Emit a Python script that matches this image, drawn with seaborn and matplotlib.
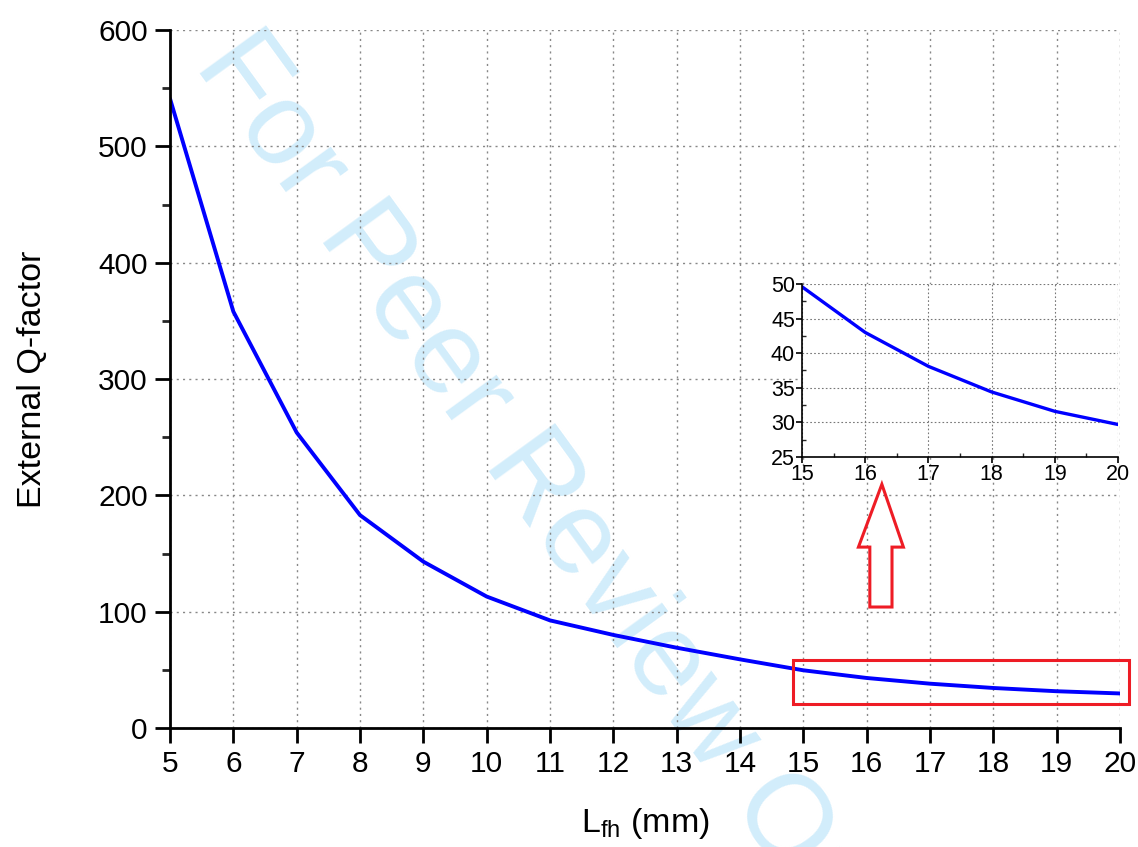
import numpy as np
import pandas as pd
import matplotlib
matplotlib.use('Agg')
import matplotlib.pyplot as plt
from matplotlib.patches import Rectangle, Polygon
from matplotlib.ticker import MultipleLocator
import seaborn as sns

# Dados
comprimento = [5, 6, 7, 8, 9, 10, 11, 12, 13, 14, 15, 16, 17, 18, 19, 20]
q_externo = [541, 358, 254, 183, 143, 113, 92.5, 80, 69, 59,
             49.6, 43.0, 38.1, 34.4, 31.6, 29.7]

df = pd.DataFrame({'L': comprimento, 'Q': q_externo})
df_zoom = df[df['L'] >= 15]

sns.set_theme(style='white')
plt.rcParams['font.family'] = ['Liberation Sans', 'DejaVu Sans']
plt.rcParams['mathtext.fontset'] = 'custom'
plt.rcParams['mathtext.rm'] = 'Liberation Sans'

fig = plt.figure(figsize=(11.38, 8.47), dpi=100)

# Marca d'água ao fundo
fig.text(193 / 1138, 1 - 65 / 847, 'For Peer Review Only', fontsize=85,
         color='#d2edfb', rotation=-54, rotation_mode='anchor',
         ha='left', va='baseline', zorder=-1)

# Gráfico principal
ax = fig.add_axes([170 / 1138, 1 - 728 / 847, 950 / 1138, 698 / 847])
ax.patch.set_alpha(0)
sns.lineplot(data=df, x='L', y='Q', color='#0000ff', linewidth=2.8, ax=ax)
ax.set_xlim(5, 20)
ax.set_ylim(0, 600)
ax.set_xticks(range(5, 21))
ax.set_yticks(range(0, 601, 100))
ax.yaxis.set_minor_locator(MultipleLocator(50))
ax.grid(True, which='major', linestyle=(0, (1.5, 3)), color='#888888', linewidth=1)
for s in ['top', 'right']:
    ax.spines[s].set_visible(False)
for s in ['left', 'bottom']:
    ax.spines[s].set_color('black')
    ax.spines[s].set_linewidth(2)
ax.tick_params(axis='both', which='major', direction='out', length=11, width=2,
               labelsize=21.5, colors='black', left=True, bottom=True, pad=5)
ax.tick_params(axis='y', which='minor', direction='out', length=6, width=2, left=True)
ax.set_xlabel(r'L$_{\mathregular{fh}}$ (mm)', fontsize=24.5, labelpad=20, color='black')
ax.set_ylabel('External Q-factor', fontsize=24.5, labelpad=36, color='black')

# Destaque em vermelho
ax.add_patch(Rectangle((14.84, 20.6), 5.30, 37.9, fill=False, edgecolor='#ee1c25',
                       linewidth=2.2, clip_on=False, zorder=5))
seta = [(16.24, 209.5), (16.58, 155.5), (16.40, 155.5), (16.40, 104),
        (16.05, 104), (16.05, 155.5), (15.87, 155.5)]
ax.add_patch(Polygon(seta, closed=True, fill=False, edgecolor='#ee1c25',
                     linewidth=2.2, clip_on=False, zorder=5))

# Gráfico ampliado
axi = fig.add_axes([802 / 1138, 1 - 457 / 847, 316 / 1138, 173 / 847])
sns.lineplot(data=df_zoom, x='L', y='Q', color='#0000ff', linewidth=2.4, ax=axi)
axi.set_xlim(15, 20)
axi.set_ylim(25, 50)
axi.set_xticks(range(15, 21))
axi.set_yticks(range(25, 51, 5))
axi.xaxis.set_minor_locator(MultipleLocator(0.5))
axi.yaxis.set_minor_locator(MultipleLocator(2.5))
axi.grid(True, which='major', linestyle=(0, (1.5, 2)), color='#777777', linewidth=0.8)
for s in ['top', 'right']:
    axi.spines[s].set_visible(False)
for s in ['left', 'bottom']:
    axi.spines[s].set_color('black')
    axi.spines[s].set_linewidth(1.2)
axi.tick_params(axis='both', which='major', direction='out', length=4, width=1.2,
                labelsize=15.5, colors='black', left=True, bottom=True, pad=1)
axi.tick_params(axis='both', which='minor', direction='in', length=3, width=1,
                left=True, bottom=True)
axi.set_xlabel('')
axi.set_ylabel('')

fig.savefig('out.png', dpi=100)
